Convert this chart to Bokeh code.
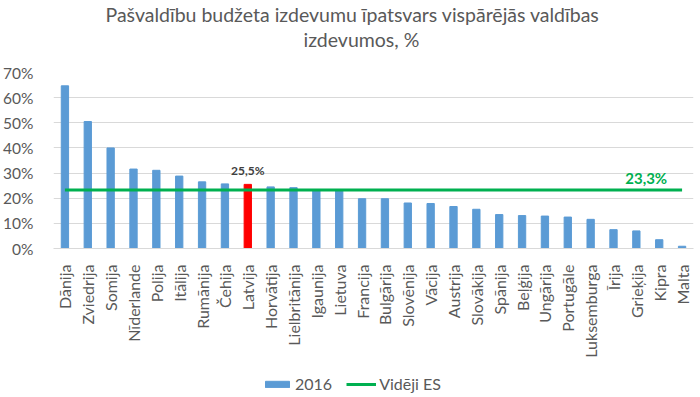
from bokeh.plotting import figure
from bokeh.layouts import column
from bokeh.models import (ColumnDataSource, FactorRange, FixedTicker, PrintfTickFormatter,
                          Legend, LegendItem, Title, Range1d)
from bokeh.core.properties import value
from bokeh.embed import file_html
from bokeh.resources import INLINE
import math

countries = ["Dānija", "Zviedrija", "Somija", "Nīderlande", "Polija", "Itālija", "Rumānija",
             "Čehija", "Latvija", "Horvātija", "Lielbritānija", "Igaunija", "Lietuva",
             "Francija", "Bulgārija", "Slovēnija", "Vācija", "Austrija", "Slovākija",
             "Spānija", "Beļģija", "Ungārija", "Portugāle", "Luksemburga", "Īrija",
             "Grieķija", "Kipra", "Malta"]
values_2016 = [64.7, 50.5, 40.0, 31.6, 31.1, 28.8, 26.5, 25.7, 25.5, 24.5, 24.2, 23.4, 23.0,
               19.8, 19.8, 18.1, 17.9, 16.7, 15.6, 13.5, 13.1, 12.9, 12.5, 11.6, 7.5,
               7.0, 3.5, 0.9]
highlight = "Latvija"
eu_average = 23.3
y_ticks = [0, 10, 20, 30, 40, 50, 60, 70]
series_labels = ["2016", "Vidēji ES"]
title_lines = ["Pašvaldību budžeta izdevumu īpatsvars vispārējās valdības", "izdevumos, %"]

FONT = "Lato"
GREY = "#595959"
BLUE = "#5B9BD5"
GREEN = "#00B050"
W = 698


def blank_figure(height):
    f = figure(width=W, height=height, output_backend="svg", toolbar_location=None,
               x_axis_type=None, y_axis_type=None, min_border=0, outline_line_color=None,
               x_range=FactorRange(*countries), y_range=Range1d(0, 70))
    f.title = None
    f.xgrid.grid_line_color = None
    f.ygrid.grid_line_color = None
    return f


# ---- title strip ----
tf = blank_figure(60)
tf.add_layout(Title(text=title_lines[1], align="left", offset=250, text_font=FONT,
                    text_font_size="19.5px", text_font_style="normal", text_color=GREY,
                    standoff=0), "above")
tf.add_layout(Title(text=title_lines[0], align="left", offset=52, text_font=FONT,
                    text_font_size="19.5px", text_font_style="normal", text_color=GREY,
                    standoff=0), "above")

# ---- main chart ----
colors = ["#FF0000" if c == highlight else BLUE for c in countries]
src = ColumnDataSource(dict(x=countries, top=values_2016, color=colors))

p = figure(width=W, height=312, output_backend="svg", toolbar_location=None,
           x_range=FactorRange(*countries, range_padding=0), y_range=Range1d(0, 70),
           min_border_left=50, min_border_right=5, min_border_top=12, min_border_bottom=124,
           outline_line_color=None)
p.title = None

p.vbar(x="x", top="top", width=0.32, color="color", source=src)
p.line(x=[countries[0], countries[-1]], y=[eu_average, eu_average],
       line_color=GREEN, line_width=3)

hl_idx = countries.index(highlight)
p.text(x=[countries[hl_idx]], y=[values_2016[hl_idx]], text=["25,5%"],
       text_font=value(FONT), text_font_size="12px", text_font_style="bold",
       text_color="#404040", text_align="center", text_baseline="middle", y_offset=-14)
p.text(x=[countries[-2]], y=[eu_average], text=["23,3%"],
       text_font=value(FONT), text_font_size="15px", text_font_style="bold",
       text_color=GREEN, text_align="center", text_baseline="middle", x_offset=-13, y_offset=-12)

p.yaxis.ticker = FixedTicker(ticks=y_ticks)
p.yaxis.formatter = PrintfTickFormatter(format="%d%%")
p.yaxis.axis_line_color = None
p.yaxis.major_tick_line_color = None
p.yaxis.minor_tick_line_color = None
p.yaxis.major_label_text_font = FONT
p.yaxis.major_label_text_font_size = "15.5px"
p.yaxis.major_label_text_color = GREY
p.yaxis.major_label_standoff = 14

p.xaxis.axis_line_color = "#D9D9D9"
p.xaxis.axis_line_width = 1
p.xaxis.major_tick_line_color = None
p.xaxis.minor_tick_line_color = None
p.xaxis.major_label_orientation = math.pi / 2
p.xaxis.major_label_text_font = FONT
p.xaxis.major_label_text_font_size = "16px"
p.xaxis.major_label_text_color = GREY
p.xaxis.major_label_standoff = 10

p.xgrid.grid_line_color = None
p.ygrid.grid_line_color = "#D9D9D9"
p.ygrid.grid_line_width = 1

# ---- legend strip ----
lf = blank_figure(23)
key_src = ColumnDataSource(dict(x=countries[:1], top=values_2016[:1]))
bar_key = lf.vbar(x="x", top="top", width=0.32, color=BLUE, source=key_src, visible=False)
line_key = lf.line(x=[countries[0], countries[-1]], y=[eu_average, eu_average],
                   line_color=GREEN, line_width=3, visible=False)
legend = Legend(items=[LegendItem(label=series_labels[0], renderers=[bar_key]),
                       LegendItem(label=series_labels[1], renderers=[line_key])],
                orientation="horizontal", location=(209, 2), border_line_color=None,
                background_fill_alpha=0, glyph_width=30, glyph_height=8,
                label_text_font=FONT, label_text_font_size="16px", label_text_color=GREY,
                label_height=18, spacing=14, label_standoff=3, padding=0, margin=0)
lf.add_layout(legend, "center")

layout = column(tf, p, lf, spacing=0)
open("out.html", "w").write(file_html(layout, INLINE))
